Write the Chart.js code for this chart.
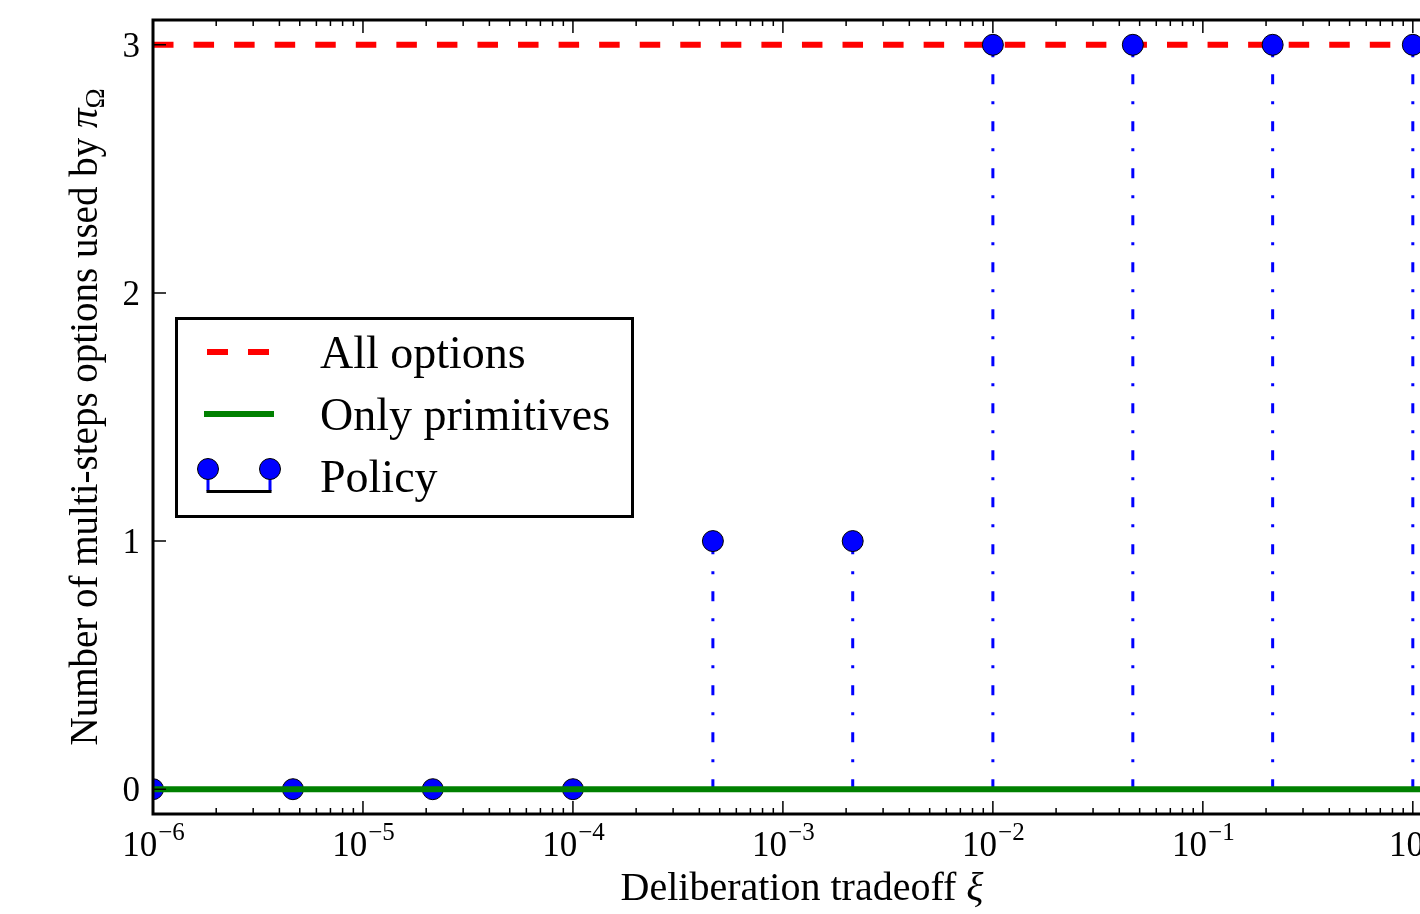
<!DOCTYPE html>
<html>
<head>
<meta charset="utf-8">
<script src="https://cdn.jsdelivr.net/npm/chart.js@4.4.1/dist/chart.umd.min.js"></script>
<style>
html, body { margin: 0; padding: 0; background: #fff; overflow: hidden; }
#wrap { position: relative; width: 1480px; height: 914px; }
</style>
</head>
<body>
<div id="wrap"><canvas id="myChart" width="1480" height="914"></canvas></div>
<script>
// データ (logspace(-6, 0, 10))
const xiValues = [1e-6, 4.64e-6, 2.15e-5, 1e-4, 4.64e-4, 2.15e-3, 1e-2, 4.64e-2, 2.15e-1, 1];
const policyCounts = [0, 0, 0, 0, 1, 1, 3, 3, 3, 3];
const allOptionsCount = 3;
const onlyPrimitivesCount = 0;
const xRange = [1e-6, 1.52];
const yRange = [-0.1, 3.1];
const xTickExponents = [-6, -5, -4, -3, -2, -1, 0];
const yTickValues = [0, 1, 2, 3];
const legendLabels = ['All options', 'Only primitives', 'Policy'];

const SERIF = "'Liberation Serif', 'DejaVu Serif', serif";

// stem用のデータ (0 -> 値, nullで区切る)
const stemData = [];
xiValues.forEach((x, i) => {
    stemData.push({x: x, y: 0});
    stemData.push({x: x, y: policyCounts[i]});
    stemData.push({x: x, y: null});
});

// 軸・目盛り・凡例を描くプラグイン
const axesPlugin = {
    id: 'axesPlugin',
    afterDraw(chart) {
        const ctx = chart.ctx;
        const a = chart.chartArea;
        const xs = chart.scales.x;
        const ys = chart.scales.y;
        ctx.save();
        ctx.strokeStyle = '#000';
        ctx.fillStyle = '#000';

        // x目盛り (内向き)
        ctx.lineWidth = 1.5;
        ctx.beginPath();
        xTickExponents.forEach(e => {
            for (let m = 1; m <= 9; m++) {
                const v = m * Math.pow(10, e);
                if (v < xRange[0] || v > xRange[1]) continue;
                const px = xs.getPixelForValue(v);
                const len = m === 1 ? 13 : 6;
                ctx.moveTo(px, a.bottom);
                ctx.lineTo(px, a.bottom - len);
                ctx.moveTo(px, a.top);
                ctx.lineTo(px, a.top + len);
            }
        });
        yTickValues.forEach(v => {
            const py = ys.getPixelForValue(v);
            ctx.moveTo(a.left, py);
            ctx.lineTo(a.left + 13, py);
            ctx.moveTo(a.right, py);
            ctx.lineTo(a.right - 13, py);
        });
        ctx.stroke();

        // 枠
        ctx.lineWidth = 3;
        ctx.strokeRect(a.left, a.top, a.right - a.left, a.bottom - a.top);

        // x目盛りラベル 10^n
        ctx.textBaseline = 'alphabetic';
        ctx.textAlign = 'left';
        xTickExponents.forEach(e => {
            const px = xs.getPixelForValue(Math.pow(10, e));
            const base = '10';
            const sup = e === 0 ? '0' : '\u2212' + Math.abs(e);
            ctx.font = '35px ' + SERIF;
            const w1 = ctx.measureText(base).width;
            ctx.font = '25px ' + SERIF;
            const w2 = ctx.measureText(sup).width;
            const x0 = px - (w1 + w2) / 2;
            ctx.font = '35px ' + SERIF;
            ctx.fillText(base, x0, 856);
            ctx.font = '25px ' + SERIF;
            ctx.fillText(sup, x0 + w1 + 1, 840);
        });

        // y目盛りラベル
        ctx.font = '35px ' + SERIF;
        ctx.textAlign = 'right';
        yTickValues.forEach(v => {
            const py = ys.getPixelForValue(v);
            ctx.fillText(String(v), a.left - 13, py + 12);
        });

        // x軸タイトル
        ctx.textAlign = 'left';
        const xt1 = 'Deliberation tradeoff ';
        const xt2 = '\u03BE';
        ctx.font = '40px ' + SERIF;
        const xw1 = ctx.measureText(xt1).width;
        ctx.font = 'italic 40px ' + SERIF;
        const xw2 = ctx.measureText(xt2).width;
        const xcx = (a.left + a.right) / 2;
        ctx.font = '40px ' + SERIF;
        ctx.fillText(xt1, xcx - (xw1 + xw2) / 2, 900);
        ctx.font = 'italic 40px ' + SERIF;
        ctx.fillText(xt2, xcx - (xw1 + xw2) / 2 + xw1, 900);

        // y軸タイトル (π_Ω)
        const yt1 = 'Number of multi-steps options used by ';
        const yt2 = '\u03C0';
        const yt3 = '\u03A9';
        ctx.font = '39px ' + SERIF;
        const yw1 = ctx.measureText(yt1).width;
        ctx.font = 'italic 39px ' + SERIF;
        const yw2 = ctx.measureText(yt2).width;
        ctx.font = '27px ' + SERIF;
        const yw3 = ctx.measureText(yt3).width;
        const total = yw1 + yw2 + yw3;
        ctx.save();
        ctx.translate(97, (a.top + a.bottom) / 2);
        ctx.rotate(-Math.PI / 2);
        ctx.font = '39px ' + SERIF;
        ctx.fillText(yt1, -total / 2, 0);
        ctx.font = 'italic 39px ' + SERIF;
        ctx.fillText(yt2, -total / 2 + yw1, 0);
        ctx.font = '27px ' + SERIF;
        ctx.fillText(yt3, -total / 2 + yw1 + yw2, 7);
        ctx.restore();

        // 凡例
        const lx = a.left + 23.5, ly = a.top + 298.5;
        ctx.fillStyle = '#fff';
        ctx.fillRect(lx, ly, 456, 198);
        ctx.lineWidth = 3;
        ctx.strokeStyle = '#000';
        ctx.strokeRect(lx, ly, 456, 198);

        // All options
        ctx.lineWidth = 6;
        ctx.strokeStyle = '#ff0000';
        ctx.beginPath();
        ctx.moveTo(207, 352); ctx.lineTo(228, 352);
        ctx.moveTo(248, 352); ctx.lineTo(269, 352);
        ctx.stroke();
        // Only primitives
        ctx.strokeStyle = '#008000';
        ctx.beginPath();
        ctx.moveTo(204, 414); ctx.lineTo(274, 414);
        ctx.stroke();
        // Policy (stem)
        ctx.lineWidth = 3;
        ctx.strokeStyle = '#0000ff';
        ctx.beginPath();
        ctx.moveTo(208, 478); ctx.lineTo(208, 491);
        ctx.moveTo(270, 478); ctx.lineTo(270, 491);
        ctx.stroke();
        ctx.strokeStyle = '#000';
        ctx.beginPath();
        ctx.moveTo(206.5, 491.5); ctx.lineTo(271.5, 491.5);
        ctx.stroke();
        ctx.lineWidth = 1;
        [208, 270].forEach(cx => {
            ctx.beginPath();
            ctx.arc(cx, 469, 10.5, 0, Math.PI * 2);
            ctx.fillStyle = '#0000ff';
            ctx.fill();
            ctx.stroke();
        });

        ctx.fillStyle = '#000';
        ctx.font = '46px ' + SERIF;
        ctx.textAlign = 'left';
        ctx.fillText(legendLabels[0], 320, 368);
        ctx.fillText(legendLabels[1], 320, 430);
        ctx.fillText(legendLabels[2], 320, 492);
        ctx.restore();
    }
};

// グラフデータ
const data = {
    datasets: [{
        label: legendLabels[1],
        data: [{x: xRange[0], y: onlyPrimitivesCount}, {x: xRange[1], y: onlyPrimitivesCount}],
        borderColor: '#008000',
        borderWidth: 6,
        pointRadius: 0,
        order: 0
    }, {
        label: legendLabels[2],
        data: xiValues.map((x, i) => ({x: x, y: policyCounts[i]})),
        showLine: false,
        pointRadius: 10.5,
        pointHoverRadius: 10.5,
        pointBackgroundColor: '#0000ff',
        pointBorderColor: '#000',
        pointBorderWidth: 1,
        order: 1
    }, {
        label: 'stems',
        data: stemData,
        borderColor: '#0000ff',
        borderWidth: 3,
        borderDash: [10, 17, 3, 17],
        borderCapStyle: 'butt',
        pointRadius: 0,
        spanGaps: false,
        order: 2
    }, {
        label: legendLabels[0],
        data: [{x: xRange[0], y: allOptionsCount}, {x: xRange[1], y: allOptionsCount}],
        borderColor: '#ff0000',
        borderWidth: 6,
        borderDash: [20.5, 20.06],
        borderCapStyle: 'butt',
        pointRadius: 0,
        order: 3
    }]
};

// コンフィグ
const config = {
    type: 'line',
    data: data,
    options: {
        responsive: false,
        animation: false,
        layout: { padding: { top: 20, right: 29, left: 0, bottom: 0 } },
        plugins: { legend: { display: false }, tooltip: { enabled: false } },
        scales: {
            x: {
                type: 'logarithmic',
                min: xRange[0],
                max: xRange[1],
                ticks: { display: false },
                grid: { display: false },
                border: { display: false },
                afterFit: s => { s.height = 100; }
            },
            y: {
                type: 'linear',
                min: yRange[0],
                max: yRange[1],
                ticks: { display: false },
                grid: { display: false },
                border: { display: false },
                afterFit: s => { s.width = 153; }
            }
        }
    },
    plugins: [axesPlugin]
};

const myChart = new Chart(document.getElementById('myChart'), config);
</script>
</body>
</html>
